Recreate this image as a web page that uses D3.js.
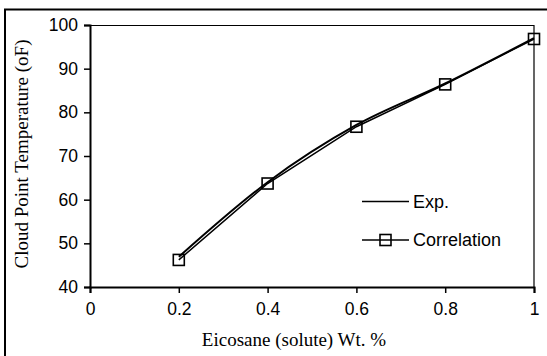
<!DOCTYPE html>
<html>
<head>
<meta charset="utf-8">
<script src="https://cdn.jsdelivr.net/npm/d3@7"></script>
<style>
  body { margin: 0; background: #fff; }
  .tick text { font-family: "Liberation Sans", Arial, sans-serif; font-size: 17.5px; fill: #000; }
  .axis-title { font-family: "Liberation Serif", "Times New Roman", serif; font-size: 19px; fill: #000; }
  .legend text { font-family: "Liberation Sans", Arial, sans-serif; font-size: 18px; fill: #000; }
</style>
</head>
<body>
<div id="chart"></div>
<script>
// data
var solute = [0.2, 0.4, 0.6, 0.8, 1.0];
var expTemp = [46.9, 64.0, 77.1, 86.6, 97.0];
var corrTemp = [46.2, 63.7, 76.7, 86.4, 96.8];
var xTicks = [0, 0.2, 0.4, 0.6, 0.8, 1];
var yTicks = [40, 50, 60, 70, 80, 90, 100];

var svgWidth = 547;
var svgHeight = 356;

var margin = { top: 25, right: 13, bottom: 69, left: 90 };
var width = svgWidth - margin.left - margin.right;
var height = svgHeight - margin.top - margin.bottom;

var svg = d3.select("#chart")
  .append("svg")
  .attr("width", svgWidth)
  .attr("height", svgHeight);

// outer frame (only top and left show in the picture)
svg.append("rect")
  .attr("x", 5)
  .attr("y", 9.5)
  .attr("width", 560)
  .attr("height", 360)
  .attr("fill", "none")
  .attr("stroke", "#000")
  .attr("stroke-width", 2);

var chartGroup = svg.append("g")
  .attr("transform", `translate(${margin.left}, ${margin.top})`);

var xScale = d3.scaleLinear().domain([0, 1]).range([0, width]);
var yScale = d3.scaleLinear().domain([40, 100]).range([height, 0]);

// top / right border of plot area
chartGroup.append("path")
  .attr("d", `M0,0.5H${width}V${height}`)
  .attr("fill", "none")
  .attr("stroke", "#000")
  .attr("stroke-width", 1.2);

var bottomAxis = d3.axisBottom(xScale)
  .tickValues(xTicks)
  .tickSize(6)
  .tickPadding(10)
  .tickFormat(d3.format("~g"));

var leftAxis = d3.axisLeft(yScale)
  .tickValues(yTicks)
  .tickSize(6)
  .tickPadding(6)
  .tickFormat(d3.format("d"));

var xAxis = chartGroup.append("g")
  .attr("transform", `translate(0, ${height})`)
  .call(bottomAxis);

var yAxis = chartGroup.append("g")
  .call(leftAxis);

[xAxis, yAxis].forEach(function(ax) {
  ax.select(".domain").attr("stroke-width", 2).attr("stroke", "#000");
  ax.selectAll(".tick line").attr("stroke-width", 1.5).attr("stroke", "#000");
});

// axis titles
chartGroup.append("text")
  .attr("class", "axis-title")
  .attr("x", xScale(0.5) - 18)
  .attr("y", height + 59)
  .attr("text-anchor", "middle")
  .text("Eicosane (solute) Wt. %");

chartGroup.append("text")
  .attr("class", "axis-title")
  .attr("transform", `translate(-62, ${height / 2 - 2}) rotate(-90)`)
  .attr("text-anchor", "middle")
  .text("Cloud Point Temperature (oF)");

// lines
var expData = solute.map((x, i) => ({ x: x, y: expTemp[i] }));
var corrData = solute.map((x, i) => ({ x: x, y: corrTemp[i] }));

var smoothLine = d3.line()
  .x(d => xScale(d.x))
  .y(d => yScale(d.y))
  .curve(d3.curveMonotoneX);

var straightLine = d3.line()
  .x(d => xScale(d.x))
  .y(d => yScale(d.y));

chartGroup.append("path")
  .datum(expData)
  .attr("d", smoothLine)
  .attr("fill", "none")
  .attr("stroke", "#000")
  .attr("stroke-width", 2);

chartGroup.append("path")
  .datum(corrData)
  .attr("d", straightLine)
  .attr("fill", "none")
  .attr("stroke", "#000")
  .attr("stroke-width", 1.5);

var sq = 11;
chartGroup.selectAll(".marker")
  .data(corrData)
  .enter()
  .append("rect")
  .attr("class", "marker")
  .attr("x", d => xScale(d.x) - sq / 2)
  .attr("y", d => yScale(d.y) - sq / 2)
  .attr("width", sq)
  .attr("height", sq)
  .attr("fill", "none")
  .attr("stroke", "#000")
  .attr("stroke-width", 1.6);

// legend
var legend = svg.append("g").attr("class", "legend");

legend.append("line")
  .attr("x1", 362).attr("x2", 409)
  .attr("y1", 201.5).attr("y2", 201.5)
  .attr("stroke", "#000").attr("stroke-width", 1.6);
legend.append("text")
  .attr("x", 413).attr("y", 201.5)
  .attr("dy", "0.35em")
  .text("Exp.");

legend.append("line")
  .attr("x1", 362).attr("x2", 409)
  .attr("y1", 240).attr("y2", 240)
  .attr("stroke", "#000").attr("stroke-width", 1.6);
legend.append("rect")
  .attr("x", 385.5 - sq / 2).attr("y", 240 - sq / 2)
  .attr("width", sq).attr("height", sq)
  .attr("fill", "none")
  .attr("stroke", "#000").attr("stroke-width", 1.6);
legend.append("text")
  .attr("x", 413).attr("y", 240)
  .attr("dy", "0.35em")
  .text("Correlation");
</script>
</body>
</html>
